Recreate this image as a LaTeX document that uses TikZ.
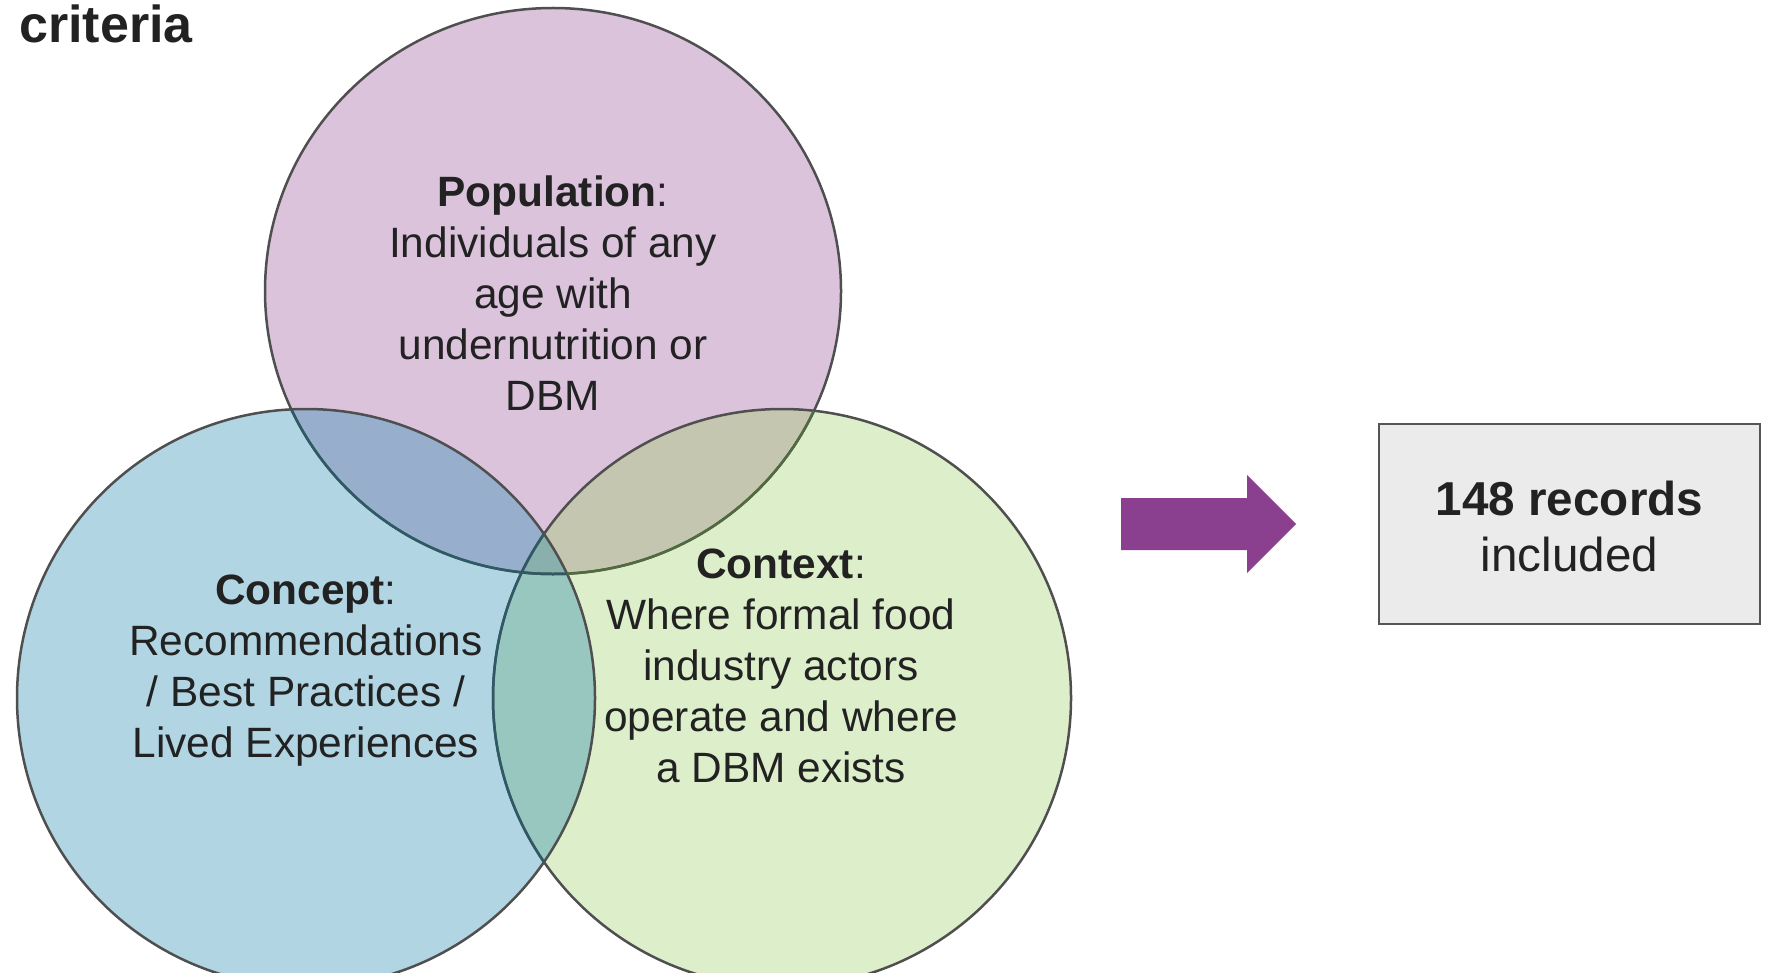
\documentclass[tikz,border=0pt]{standalone}
\usepackage{fontspec}
\setmainfont{Liberation Sans}
\definecolor{popc}{HTML}{DBC3DC}
\definecolor{conc}{HTML}{B1D5E3}
\definecolor{ctxc}{HTML}{DDEFCA}
\definecolor{pcC}{HTML}{97AECC}
\definecolor{pxC}{HTML}{C4C6B0}
\definecolor{cxC}{HTML}{98C7BF}
\definecolor{triC}{HTML}{8AB0AE}
\definecolor{outl}{HTML}{4F4F4F}
\definecolor{tealine}{HTML}{2E5A68}
\definecolor{oliveline}{HTML}{4F6B3F}
\definecolor{txt}{HTML}{222222}
\definecolor{arrowc}{HTML}{8B3F8F}
\definecolor{boxfill}{HTML}{EBEBEB}
\definecolor{boxline}{HTML}{555555}
\newcommand\vr{144.5pt}
\tikzset{
  circline/.style={line width=1.25pt},
  popr/.style={x radius=144pt, y radius=141.5pt},
  bodytext/.style={align=center, text=txt, inner sep=0pt, font=\fontsize{21.2}{25.5}\selectfont},
  recbox/.style={draw=boxline, fill=boxfill, line width=1.25pt,
    minimum width=190.5pt, minimum height=100pt},
  rectext/.style={align=center, text=txt, inner sep=0pt, font=\fontsize{23.8}{28.2}\selectfont},
}
\begin{document}
\begin{tikzpicture}[x=0.5pt,y=-0.5pt]
\useasboundingbox (0,0) rectangle (1770,973);
\coordinate (P) at (553,291);
\coordinate (C) at (306,698);
\coordinate (X) at (782,698);
% fills
\fill[popc] (P) ellipse[popr];
\fill[ctxc] (X) circle[radius=\vr];
\fill[conc] (C) circle[radius=\vr];
\begin{scope}
  \clip (P) ellipse[popr];
  \fill[pxC] (X) circle[radius=\vr];
  \fill[pcC] (C) circle[radius=\vr];
\end{scope}
\begin{scope}
  \clip (C) circle[radius=\vr];
  \fill[cxC] (X) circle[radius=\vr];
\end{scope}
\begin{scope}
  \clip (P) ellipse[popr];
  \clip (C) circle[radius=\vr];
  \fill[triC] (X) circle[radius=\vr];
\end{scope}
% outlines
\draw[circline, outl] (P) ellipse[popr];
\draw[circline, outl] (X) circle[radius=\vr];
\draw[circline, outl] (C) circle[radius=\vr];
\begin{scope}
  \clip (X) circle[radius=\vr];
  \draw[circline, oliveline] (P) ellipse[popr];
\end{scope}
\begin{scope}
  \clip (C) circle[radius=\vr];
  \draw[circline, tealine] (P) ellipse[popr];
  \draw[circline, tealine] (X) circle[radius=\vr];
\end{scope}
% texts
\node (title) [anchor=base west, inner sep=0pt, text=txt, font=\fontsize{26}{30}\selectfont\bfseries] at (19,43) {criteria};
\node (ptext) [bodytext] at (553,293) {\textbf{Population}:\\Individuals of any\\age with\\undernutrition or\\DBM};
\node (ctext) [bodytext] at (306,671) {\textbf{Concept}:\\Recommendations\\/ Best Practices /\\Lived Experiences};
\node (xtext) [bodytext] at (781,666) {\textbf{Context}:\\Where formal food\\industry actors\\operate and where\\a DBM exists};
% arrow
\fill[arrowc] (1121,498) -- (1247,498) -- (1247,475) -- (1296,524) -- (1247,573) -- (1247,550) -- (1121,550) -- cycle;
% box
\node (rec) [recbox] at (1569.5,524) {};
\node (rtext) [rectext] at (rec.center) [yshift=-1.2pt] {\textbf{148 records}\\included};
\end{tikzpicture}
\end{document}
